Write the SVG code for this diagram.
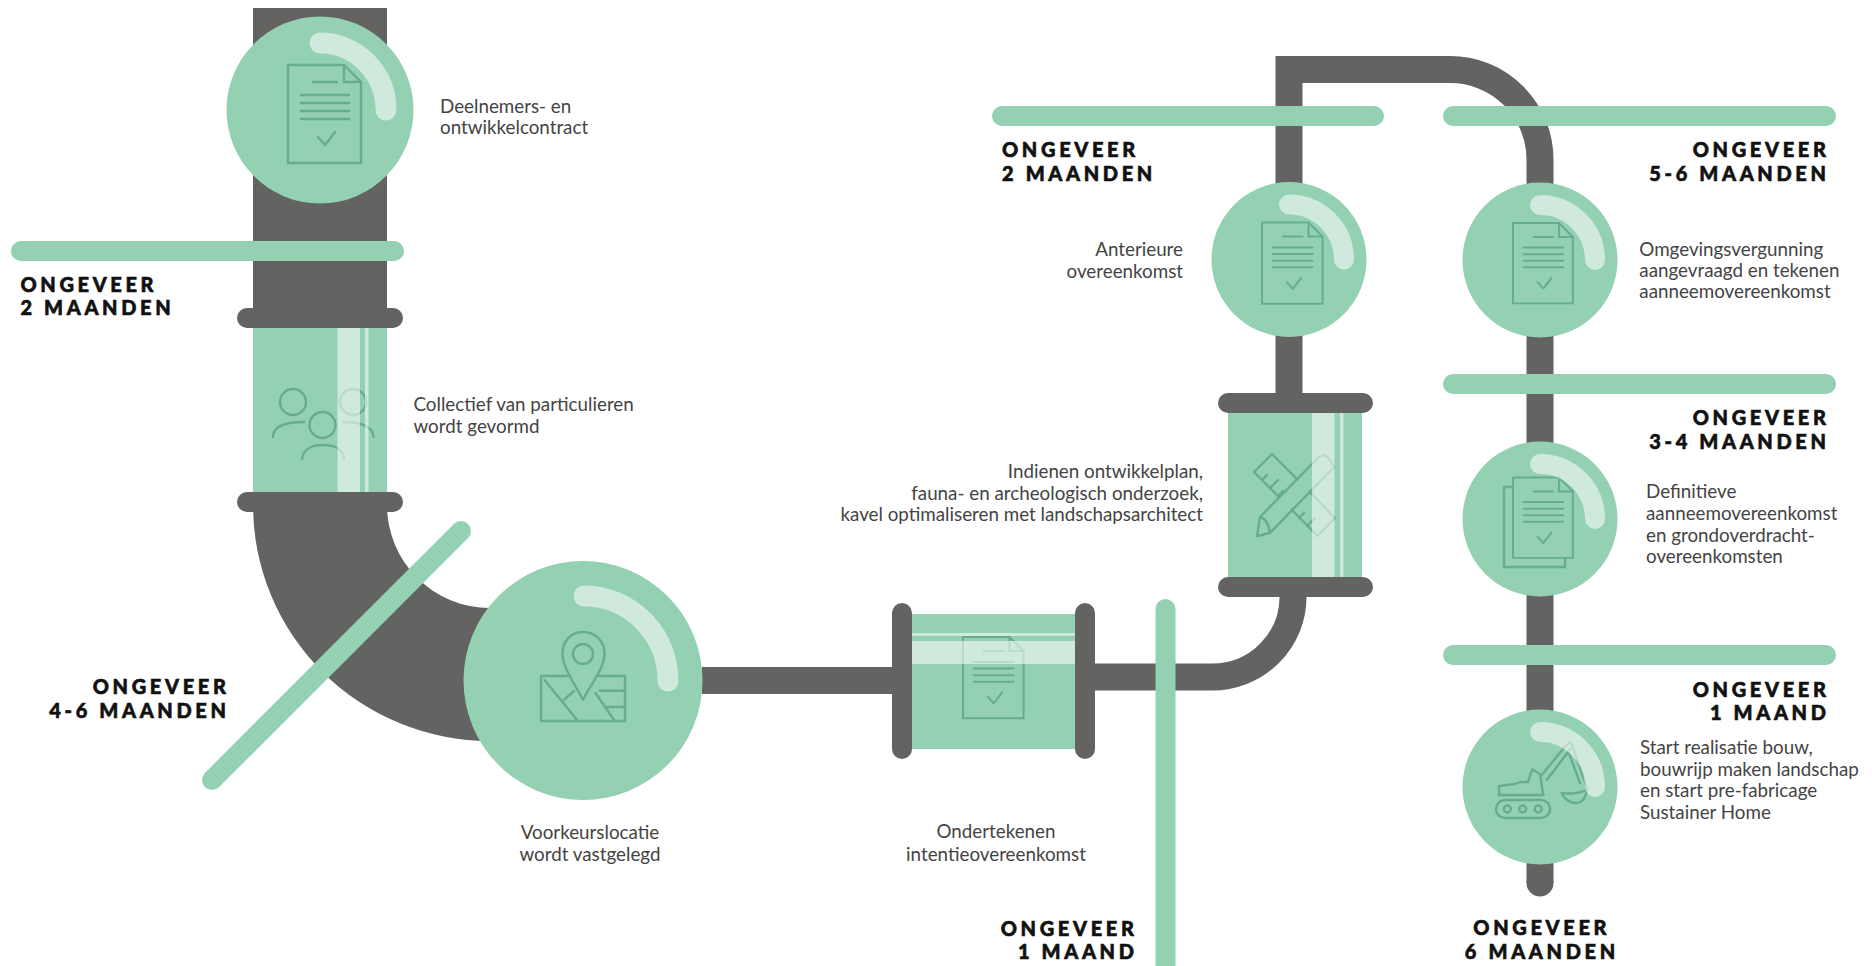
<svg xmlns="http://www.w3.org/2000/svg" xmlns:xlink="http://www.w3.org/1999/xlink" width="1872" height="966" viewBox="0 0 1872 966">
<style>
.pipe{fill:none;stroke:#636361;stroke-width:27}
.dark{fill:#636361}
.mint{fill:#94d0b2}
.bar{fill:none;stroke:#94d0b2;stroke-width:20;stroke-linecap:round}
.hl{fill:none;stroke:#fff;stroke-opacity:.55;stroke-width:20;stroke-linecap:round}
.strip{fill:#fff;fill-opacity:.55}
.ic{fill:none;stroke:#66ad90;stroke-width:2.4;stroke-linejoin:round;stroke-linecap:round}
text{font-family:Lato,"Liberation Sans",sans-serif}
.t{font-size:18.8px;fill:#444}
.b{font-size:20px;font-weight:900;fill:#111;stroke:#111;stroke-width:.6px;letter-spacing:3.65px}
.e{text-anchor:end}
.m{text-anchor:middle}
</style>
<defs>
<g id="doc" class="ic">
<path d="M0 0H56L73 17V98H0Z"/><path d="M56 0V17H73"/>
<path d="M25 17H49M13 30H61M13 38H61M13 46H61M13 54H61"/>
<path d="M30 72L37 80L47 67"/>
</g>
</defs>
<rect width="1872" height="966" fill="#fff"/>
<g id="connectors">
<rect class="dark" x="253" y="8" width="134" height="300"/>
<path class="dark" d="M253 505A237 236 0 0 0 490 741V608A103 103 0 0 1 387 505Z"/>
<path class="pipe" d="M702 680.500H892"/>
<path class="pipe" d="M1095 677H1212A81 80 0 0 0 1293 597"/>
<path class="pipe" d="M1289 393V69.500H1450A90 90 0 0 1 1540 160V883" stroke-linecap="butt"/>
<circle class="dark" cx="1540" cy="883" r="13.500"/>
</g>
<g id="glass-collectief">
<rect class="mint" x="253" y="328" width="134" height="164"/>
<g class="ic"><circle cx="293" cy="402" r="13"/><path d="M273 437C273 428 281 422 304 422"/><circle cx="353" cy="402" r="13"/><path d="M343 422C365 422 373 428 373.500 437"/><circle cx="322.500" cy="425" r="13"/><path d="M302 459C303 449 312 445 323 445C334 445 343 449 344 459"/></g>
<rect class="strip" x="337.500" y="328" width="22.500" height="164"/><rect class="strip" x="365" y="328" width="3.500" height="164"/>
<rect class="dark" x="237" y="308" width="166" height="20" rx="10"/>
<rect class="dark" x="237" y="492" width="166" height="20" rx="10"/>
<text class="t" x="413.500" y="411">Collectief van particulieren</text><text class="t" x="413.500" y="432.500">wordt gevormd</text>
</g>
<g id="node-deelnemers">
<circle class="mint" cx="320" cy="110" r="93.500"/>
<use xlink:href="#doc" href="#doc" x="288" y="65"/>
<path class="hl" style="stroke-width:21" d="M320 43A66 67 0 0 1 386 110"/>
<text class="t" x="440" y="112.700">Deelnemers- en</text><text class="t" x="440" y="134">ontwikkelcontract</text>
</g>
<g id="milestone-2m-left">
<path class="bar" d="M21 251H394"/>
<text class="b" x="20.400" y="292">ONGEVEER</text><text class="b" x="20.400" y="315">2 MAANDEN</text>
</g>
<g id="milestone-46m">
<path class="bar" d="M461 531L212 780"/>
<text class="b e" x="229.600" y="694">ONGEVEER</text><text class="b e" x="229.600" y="718">4-6 MAANDEN</text>
</g>
<g id="node-voorkeurslocatie">
<circle class="mint" cx="583" cy="680.500" r="119.500"/>
<g class="ic"><path d="M583 700C574 682 562.500 668 562.500 653.500C562.500 641 571 632 583 632C595 632 604.500 641 604.500 653.500C604.500 668 592 682 583 700Z"/><circle cx="583" cy="654" r="10"/>
<path d="M567 676H541V721H625V676H597"/><path d="M544.500 680L578 721M563.700 700L574 691M595.500 693L614.700 721M600 690.700H625M606.500 707H625"/></g>
<path class="hl" style="stroke-width:21" d="M584 596A84 85 0 0 1 668 681"/>
<text class="t m" x="590" y="839.300">Voorkeurslocatie</text><text class="t m" x="590" y="860.700">wordt vastgelegd</text>
</g>
<g id="glass-intentie">
<rect class="mint" x="912" y="614" width="163" height="135"/>
<use xlink:href="#doc" href="#doc" transform="translate(963 637) scale(.83)"/>
<rect class="strip" x="912" y="641" width="163" height="23"/><rect class="strip" x="912" y="633" width="163" height="3"/>
<rect class="dark" x="892" y="603" width="20" height="156" rx="10"/>
<rect class="dark" x="1075" y="603" width="20" height="156" rx="10"/>
<text class="t m" x="996" y="838">Ondertekenen</text><text class="t m" x="996" y="860.700">intentieovereenkomst</text>
</g>
<g id="milestone-1m-mid">
<path class="bar" d="M1165.500 609V976"/>
<text class="b e" x="1137.600" y="935.700">ONGEVEER</text><text class="b e" x="1137.600" y="959">1 MAAND</text>
</g>
<g id="glass-ontwikkelplan">
<rect class="mint" x="1228" y="413" width="134" height="165"/>
<g class="ic"><path d="M1279.500 497.500L1254 472L1272 454L1297.500 479.500"/><path d="M1291.500 509.500L1317.500 536L1335 518L1309.500 491.500"/>
<path d="M1262 480L1267 475M1270 488L1278 480M1278 496L1283 491M1299 518L1304 513M1307 526L1315 518"/>
<path d="M1260 517L1319 457Q1325 453 1330 460L1334 467L1270 533L1257 536ZM1260 517Q1268 519 1270 533"/></g>
<rect class="strip" x="1312" y="413" width="22.500" height="165"/><rect class="strip" x="1340" y="413" width="3.500" height="165"/>
<rect class="dark" x="1218" y="393" width="155" height="20" rx="10"/>
<rect class="dark" x="1218" y="577" width="155" height="20" rx="10"/>
<text class="t e" x="1203" y="478">Indienen ontwikkelplan,</text><text class="t e" x="1203" y="499.700">fauna- en archeologisch onderzoek,</text><text class="t e" x="1203" y="521">kavel optimaliseren met landschapsarchitect</text>
</g>
<g id="node-anterieure">
<circle class="mint" cx="1289" cy="259.500" r="77.500"/>
<use xlink:href="#doc" href="#doc" transform="translate(1262 222.500) scale(.83)"/>
<path class="hl" d="M1289 204.500A55 55 0 0 1 1344 259.500"/>
<text class="t e" x="1183" y="256">Anterieure</text><text class="t e" x="1183" y="277.600">overeenkomst</text>
</g>
<g id="milestone-2m-top">
<path class="bar" d="M1002 116H1374"/>
<text class="b" x="1002" y="157">ONGEVEER</text><text class="b" x="1002" y="180.500">2 MAANDEN</text>
</g>
<g id="milestone-56m">
<path class="bar" d="M1453 116H1826"/>
<text class="b e" x="1829.600" y="156.700">ONGEVEER</text><text class="b e" x="1829.600" y="180.700">5-6 MAANDEN</text>
</g>
<g id="node-omgevingsvergunning">
<circle class="mint" cx="1540" cy="260" r="77.500"/>
<use xlink:href="#doc" href="#doc" transform="translate(1513 223) scale(.82)"/>
<path class="hl" d="M1540 205A55 55 0 0 1 1595 260"/>
<text class="t" x="1639.300" y="256">Omgevingsvergunning</text><text class="t" x="1639.300" y="277.300">aangevraagd en tekenen</text><text class="t" x="1639.300" y="298.300">aanneemovereenkomst</text>
</g>
<g id="milestone-34m">
<path class="bar" d="M1453 384H1826"/>
<text class="b e" x="1829.600" y="425">ONGEVEER</text><text class="b e" x="1829.600" y="449.300">3-4 MAANDEN</text>
</g>
<g id="node-definitieve">
<circle class="mint" cx="1540" cy="519" r="77.500"/>
<path class="ic" d="M1513 487H1504V567H1565V558"/>
<use xlink:href="#doc" href="#doc" transform="translate(1513 477.500) scale(.82)"/>
<path class="hl" d="M1540 464A55 55 0 0 1 1595 519"/>
<text class="t" x="1646" y="498.300">Definitieve</text><text class="t" x="1646" y="520">aanneemovereenkomst</text><text class="t" x="1646" y="541.700">en grondoverdracht-</text><text class="t" x="1646" y="563.300">overeenkomsten</text>
</g>
<g id="milestone-1m-right">
<path class="bar" d="M1453 655H1826"/>
<text class="b e" x="1829.600" y="696.700">ONGEVEER</text><text class="b e" x="1829.600" y="720">1 MAAND</text>
</g>
<g id="node-realisatie">
<circle class="mint" cx="1540" cy="787" r="77.500"/>
<g class="ic"><rect x="1496" y="800" width="54" height="18" rx="9"/><circle cx="1507.300" cy="809" r="3.500"/><circle cx="1522.700" cy="809" r="3.500"/><circle cx="1538.300" cy="809" r="3.500"/>
<path d="M1499 795V786L1515 784L1520 782H1528L1532.300 769.300L1540 774.300L1543.300 795Z"/>
<path d="M1541.700 775L1565 746.700M1546.700 780L1568.300 751.700"/><path d="M1565 746.700L1570 742L1573 746L1568.300 751.700"/>
<path d="M1572 745L1585 782L1587 790M1568.300 751.700L1580 783"/>
<path d="M1561.700 793Q1566 803 1577 803Q1585 802 1587 790Q1575 795 1561.700 793Z"/></g>
<path class="hl" d="M1540 732A55 55 0 0 1 1595 787"/>
<text class="t" x="1640" y="754">Start realisatie bouw,</text><text class="t" x="1640" y="775.700">bouwrijp maken landschap</text><text class="t" x="1640" y="797.300">en start pre-fabricage</text><text class="t" x="1640" y="819">Sustainer Home</text>
</g>
<g id="milestone-6m">
<text class="b m" x="1541.800" y="935">ONGEVEER</text><text class="b m" x="1541.800" y="959.300">6 MAANDEN</text>
</g>
</svg>
